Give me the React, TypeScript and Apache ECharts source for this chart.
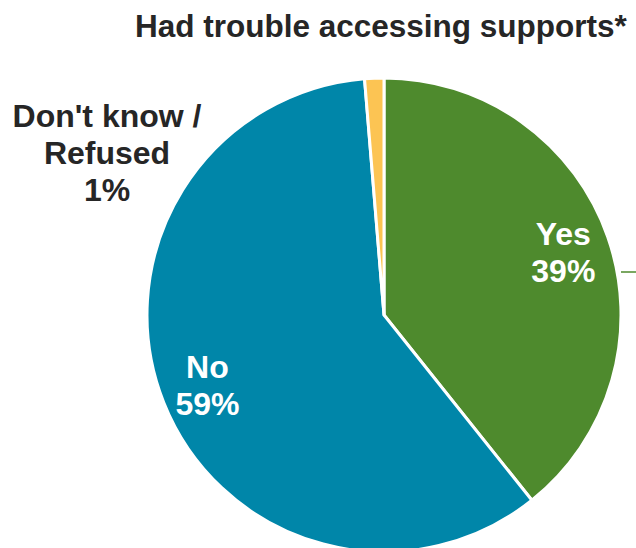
import React, { useEffect, useRef } from "react";
import * as echarts from "echarts";

const categories = ["Yes", "No", "Don't know /\nRefused"];
const values = [39, 59, 1.3];
const percentLabels = ["39%", "59%", "1%"];
const colors = ["#4e8a2d", "#0086a9", "#fcc453"];
const titleText = "Had trouble accessing supports*";

export default function App() {
  const ref = useRef<HTMLDivElement>(null);
  useEffect(() => {
    document.body.style.margin = "0";
    const chart = echarts.init(ref.current!, null, { renderer: "svg" });
    const font = "'Liberation Sans', Arial, sans-serif";
    const sliceData = categories.map((c, i) => ({
      name: c,
      value: values[i],
      itemStyle: { color: colors[i] },
    }));
    const labelData = categories.map((c, i) => ({
      name: c,
      value: values[i],
      pct: percentLabels[i],
      itemStyle: { color: "rgba(0,0,0,0)", borderWidth: 0 },
      label: i === 2 ? { color: "#262626" } : { color: "#ffffff" },
    }));
    chart.setOption({
      animation: false,
      title: {
        text: titleText,
        left: 130,
        top: 5,
        padding: [5, 0, 5, 5],
        textStyle: { fontFamily: font, fontSize: 31.5, fontWeight: "bold", color: "#262626" },
      },
      series: [
        {
          type: "pie",
          center: [384, 315],
          radius: [0, 237],
          startAngle: 90,
          clockwise: true,
          silent: true,
          data: sliceData,
          itemStyle: { borderColor: "#ffffff", borderWidth: 3 },
          label: { show: false },
          labelLine: { show: false },
          emphasis: { disabled: true },
        },
        {
          type: "pie",
          center: [384, 315],
          radius: [137, 237],
          startAngle: 90,
          clockwise: true,
          silent: true,
          data: labelData,
          label: {
            show: true,
            position: "inside",
            fontFamily: font,
            fontSize: 32,
            fontWeight: "bold",
            lineHeight: 37,
            formatter: (p: any) => p.name + "\n" + p.data.pct,
          },
          labelLine: { show: false },
          labelLayout: (p: any) =>
            p.dataIndex === 2 ? { x: 107, y: 153, align: "center", verticalAlign: "middle" } : {},
          emphasis: { disabled: true },
        },
      ],
      graphic: [
        {
          type: "line",
          shape: { x1: 621, y1: 272, x2: 636, y2: 272 },
          style: { stroke: "#4e8a2d", lineWidth: 1.5 },
        },
      ],
    });
    return () => chart.dispose();
  }, []);
  return <div ref={ref} style={{ width: 636, height: 548 }} />;
}
